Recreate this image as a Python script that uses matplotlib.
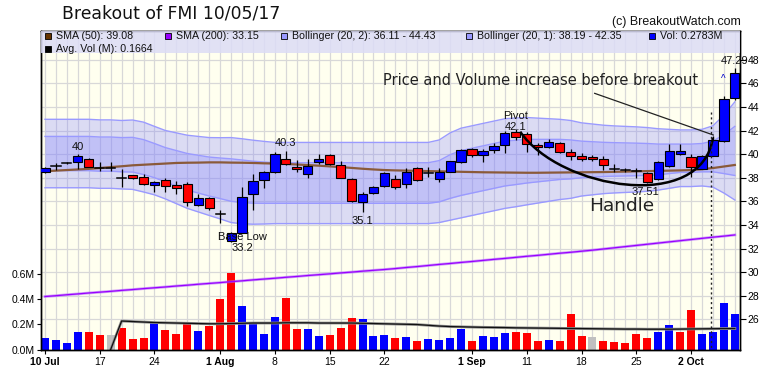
import numpy as np
import matplotlib
matplotlib.use("Agg")
import matplotlib.pyplot as plt
from matplotlib.patches import Rectangle, PathPatch
from matplotlib.path import Path
import matplotlib.transforms as mtransforms

plt.rcParams['font.family'] = ['Liberation Sans', 'DejaVu Sans']

# ---------------- data ----------------
tick_idx = [0, 5, 10, 16, 21, 26, 31, 39, 44, 49, 54, 59]
tick_lbl = ['10 Jul', '17', '24', '1 Aug', '8', '15', '22', '1 Sep', '11', '18', '25', '2 Oct']
tick_bold = [True, False, False, True, False, False, False, True, False, False, False, True]

opens = [38.5, 39.0, 39.25, 39.3, 39.6, 38.8, 38.8, 38.0, 38.2, 38.1,
         37.35, 37.8, 37.4, 37.45, 35.65, 36.25, 34.9, 32.6, 33.35, 36.6,
         37.8, 38.5, 39.55, 38.9, 38.3, 39.35, 39.9, 39.05, 37.9, 35.95,
         36.7, 37.3, 37.9, 37.45, 38.8, 38.4, 37.9, 38.5, 39.35, 40.4,
         39.9, 40.35, 40.75, 41.85, 41.7, 40.75, 40.6, 40.9, 40.2, 39.85,
         39.75, 39.6, 38.75, 38.62, 38.58, 38.4, 37.85, 39.0, 40.0, 39.75,
         38.75, 39.85, 41.1, 44.75]
highs = [38.9, 39.25, 39.3, 40.0, 39.65, 39.35, 39.35, 38.7, 38.25, 38.35,
         37.7, 37.95, 37.75, 37.6, 36.6, 36.4, 35.3, 33.4, 37.2, 38.35,
         38.55, 40.2, 40.3, 39.5, 39.6, 40.0, 40.0, 39.4, 37.95, 36.8,
         37.3, 38.5, 38.2, 38.8, 38.95, 38.95, 38.8, 39.45, 40.4, 40.55,
         40.4, 40.9, 42.0, 42.1, 41.9, 40.9, 41.25, 41.0, 40.45, 40.1,
         39.92, 39.8, 39.2, 38.85, 38.8, 38.5, 39.45, 40.85, 40.85, 40.05,
         39.95, 41.5, 44.9, 47.29]
lows = [38.4, 38.65, 39.2, 38.75, 38.9, 38.55, 38.6, 37.25, 37.9, 37.35,
        36.8, 36.8, 36.65, 35.6, 35.6, 35.25, 34.2, 32.55, 33.3, 35.3,
        37.1, 38.4, 39.1, 38.5, 38.0, 39.2, 39.1, 37.95, 35.95, 35.1,
        36.65, 37.25, 37.05, 37.1, 37.7, 38.05, 37.65, 38.45, 39.25, 39.75,
        39.35, 40.1, 40.1, 41.2, 40.2, 39.95, 40.5, 40.1, 39.5, 39.45,
        39.42, 38.65, 38.5, 38.45, 37.95, 37.51, 37.8, 38.95, 39.95, 38.1,
        38.7, 39.8, 41.05, 44.6]
closes = [38.8, 39.0, 39.25, 39.8, 38.95, 38.8, 38.8, 38.0, 37.95, 37.45,
          37.6, 37.3, 37.15, 35.9, 36.3, 35.4, 34.9, 33.35, 36.4, 37.75,
          38.5, 40.0, 39.15, 38.7, 39.0, 39.55, 39.15, 38.0, 36.05, 36.6,
          37.2, 38.4, 37.2, 38.5, 37.8, 38.4, 38.45, 39.4, 40.35, 39.9,
          40.25, 40.7, 41.75, 41.45, 40.85, 40.6, 41.05, 40.2, 39.8, 39.55,
          39.55, 39.1, 38.75, 38.62, 38.58, 37.6, 39.35, 40.3, 40.25, 38.9,
          39.8, 41.2, 44.65, 46.85]
volume = [0.091, 0.075, 0.052, 0.139, 0.139, 0.115, 0.115, 0.171, 0.083, 0.091,
          0.210, 0.155, 0.123, 0.218, 0.147, 0.187, 0.401, 0.607, 0.345, 0.210,
          0.123, 0.258, 0.409, 0.163, 0.163, 0.107, 0.115, 0.171, 0.250, 0.242,
          0.107, 0.115, 0.091, 0.099, 0.067, 0.083, 0.075, 0.091, 0.163, 0.067,
          0.107, 0.099, 0.131, 0.139, 0.131, 0.067, 0.075, 0.067, 0.282, 0.107,
          0.099, 0.067, 0.060, 0.052, 0.123, 0.091, 0.139, 0.194, 0.139, 0.313,
          0.123, 0.139, 0.369, 0.2783]
nan = float('nan')
avg_vol = [nan, nan, nan, nan, nan, nan, 0.0, 0.226, 0.222, 0.218,
           0.214, 0.212, 0.210, 0.208, 0.206, 0.204, 0.204, 0.206, 0.208, 0.210,
           0.210, 0.210, 0.212, 0.212, 0.212, 0.210, 0.210, 0.210, 0.210, 0.208,
           0.206, 0.204, 0.202, 0.200, 0.198, 0.192, 0.186, 0.182, 0.180, 0.178,
           0.176, 0.175, 0.174, 0.172, 0.171, 0.170, 0.169, 0.168, 0.167, 0.166,
           0.165, 0.164, 0.163, 0.162, 0.162, 0.161, 0.161, 0.161, 0.162, 0.163,
           0.164, 0.165, 0.166, 0.1664]
sma50 = [38.55, 38.6, 38.65, 38.7, 38.75, 38.82, 38.9, 38.97, 39.05, 39.1,
         39.15, 39.2, 39.25, 39.27, 39.28, 39.3, 39.3, 39.28, 39.27, 39.25,
         39.22, 39.2, 39.17, 39.12, 39.07, 39.02, 38.96, 38.9, 38.83, 38.76,
         38.7, 38.65, 38.62, 38.6, 38.58, 38.56, 38.54, 38.52, 38.5, 38.48,
         38.46, 38.45, 38.44, 38.43, 38.42, 38.42, 38.43, 38.44, 38.45, 38.46,
         38.47, 38.48, 38.5, 38.52, 38.54, 38.56, 38.58, 38.6, 38.62, 38.65,
         38.72, 38.82, 38.95, 39.08]
sma200 = [27.93, 28.00, 28.08, 28.15, 28.23, 28.30, 28.37, 28.45, 28.52, 28.60,
          28.67, 28.74, 28.82, 28.89, 28.97, 29.04, 29.11, 29.19, 29.26, 29.34,
          29.41, 29.48, 29.56, 29.63, 29.71, 29.78, 29.85, 29.93, 30.00, 30.08,
          30.15, 30.22, 30.30, 30.39, 30.47, 30.56, 30.65, 30.73, 30.82, 30.90,
          30.99, 31.08, 31.16, 31.25, 31.34, 31.42, 31.51, 31.60, 31.68, 31.77,
          31.86, 31.96, 32.06, 32.16, 32.26, 32.36, 32.46, 32.56, 32.66, 32.76,
          32.86, 32.96, 33.05, 33.15]
bb_mid = [40.05, 40.05, 40.05, 40.05, 40.05, 40.0, 40.0, 39.95, 39.95, 39.75,
          39.45, 39.1, 38.8, 38.5, 38.3, 38.1, 37.95, 37.8, 37.7, 37.62,
          37.58, 37.55, 37.55, 37.55, 37.55, 37.55, 37.55, 37.55, 37.55, 37.55,
          37.55, 37.55, 37.55, 37.55, 37.55, 37.55, 37.7, 38.1, 38.4, 38.6,
          38.8, 39.0, 39.2, 39.3, 39.4, 39.45, 39.5, 39.55, 39.55, 39.55,
          39.55, 39.55, 39.55, 39.55, 39.55, 39.55, 39.55, 39.6, 39.65, 39.65,
          39.7, 39.8, 40.0, 40.27]
bb_sd = [1.45, 1.45, 1.45, 1.45, 1.45, 1.45, 1.45, 1.45, 1.47, 1.48,
         1.45, 1.45, 1.5, 1.55, 1.6, 1.65, 1.72, 1.8, 1.8, 1.78,
         1.75, 1.72, 1.72, 1.72, 1.72, 1.72, 1.72, 1.72, 1.72, 1.72,
         1.72, 1.72, 1.72, 1.72, 1.72, 1.72, 1.75, 1.85, 1.9, 1.9,
         1.9, 1.9, 1.9, 1.88, 1.85, 1.8, 1.75, 1.7, 1.65, 1.55,
         1.5, 1.45, 1.42, 1.4, 1.38, 1.35, 1.3, 1.25, 1.2, 1.2,
         1.2, 1.3, 1.65, 2.08]

# ---------------- figure ----------------
W, H = 781, 384
fig = plt.figure(figsize=(W / 100, H / 100), dpi=100)
PL, PR, PT, PB = 40.7, 740.0, 30.7, 349.5
ax = fig.add_axes([PL / W, 1 - PB / H, (PR - PL) / W, (PB - PT) / H])
ax2 = ax.twinx()

n = len(closes)
x = np.arange(n)
o = np.array(opens); h = np.array(highs); l = np.array(lows); c = np.array(closes)
mid = np.array(bb_mid); sd = np.array(bb_sd)

ax.set_facecolor('#ffffef')
ax.set_xlim(-0.39, 63.47)
ax.set_ylim(0, 2.53)
ax2.set_ylim(23.44, 50.46)

# grid
ax.set_xticks(x, minor=True)
ax.set_xticks(tick_idx)
ax.grid(which='both', axis='x', color='#d8d8d8', lw=0.9, zorder=0)
ax.set_axisbelow(True)
blend = mtransforms.blended_transform_factory(ax.transAxes, ax2.transData)
for p in range(26, 49, 2):
    ax.plot([0, 1], [p, p], transform=blend, color='#d8d8d8', lw=0.9, zorder=0.5)

# volume
vcol = ['#0000ff']
for i in range(1, n):
    if c[i] > c[i - 1]:
        vcol.append('#0000ff')
    elif c[i] < c[i - 1]:
        vcol.append('#ff0000')
    else:
        vcol.append('#c0c0c0')
ax.bar(x, volume, width=0.73, color=vcol, zorder=2, linewidth=0)
ax.plot(x, avg_vol, color='#909090', lw=2.0, zorder=2.5)
ax.plot(x, avg_vol, color='#101010', lw=0.9, zorder=2.6)

# bands
ax2.fill_between(x, mid - 2 * sd, mid + 2 * sd, color='#8080ff', alpha=0.28, lw=0, zorder=1)
ax2.fill_between(x, mid - sd, mid + sd, color='#8080ff', alpha=0.28, lw=0, zorder=1.1)
for k in (-2, -1, 1, 2):
    ax2.plot(x, mid + k * sd, color='#9a9aff', lw=1.0, zorder=1.2)

# moving averages
ax2.plot(x, sma200, color='#b060ff', lw=2.0, zorder=1.5, alpha=0.6)
ax2.plot(x, sma200, color='#9900ff', lw=0.9, zorder=1.6)
ax2.plot(x, sma50, color='#8a5a3a', lw=1.6, zorder=1.7)

# candles
bw = 0.84
ax2.vlines(x, l, h, color='black', lw=0.9, zorder=3)
for i in range(n):
    if abs(c[i] - o[i]) < 0.001:
        ax2.plot([i - bw / 2, i + bw / 2], [o[i], o[i]], color='black', lw=1.1, zorder=4)
    else:
        col = '#0000ff' if c[i] > o[i] else '#ff0000'
        lo = min(o[i], c[i])
        ax2.add_patch(Rectangle((i - bw / 2, lo), bw, abs(c[i] - o[i]),
                                facecolor=col, edgecolor='black', lw=0.8, zorder=4))

# annotations
lab = dict(fontsize=8, color='#111111', ha='center', va='center', zorder=6)
ax2.text(3, 40.6, '40', **lab)
ax2.text(22, 40.94, '40.3', **lab)
ax2.text(29, 34.33, '35.1', **lab)
ax2.text(18, 33.0, 'Base Low', **lab)
ax2.text(18, 32.04, '33.2', **lab)
ax2.text(43, 43.23, 'Pivot', **lab)
ax2.text(43, 42.3, '42.1', **lab)
ax2.text(54.85, 36.82, '37.51', **lab)
ax2.text(63, 47.88, '47.29', **lab)
ax2.text(61.9, 46.4, '^', fontsize=7, color='#0000cc', ha='center', va='center', zorder=6)

ax2.text(30.9, 46.2, 'Price and Volume increase before breakout', fontsize=10.55,
         family='DejaVu Sans', color='#222222', ha='left', va='center', zorder=6)
ax2.plot([50.2, 61.03], [45.15, 41.62], color='#222222', lw=0.9, zorder=6)
ax2.text(52.7, 35.58, 'Handle', fontsize=13.3, family='DejaVu Sans', color='#222222',
         ha='center', va='center', zorder=6)
ax2.plot([60.85, 60.85], [43.6, 23.44], color='#222222', lw=1.0, ls=(0, (1.5, 2)), zorder=6)

verts = [(43.4, 41.9), (47.0, 37.0), (60.0, 35.0), (61.0, 41.4)]
path = Path(verts, [Path.MOVETO, Path.CURVE4, Path.CURVE4, Path.CURVE4])
ax2.add_patch(PathPatch(path, facecolor='none', edgecolor='black', lw=1.8, zorder=5.5))

# legend band
ax2.add_patch(Rectangle((0, 1 - 22.6 / (PB - PT)), 1, 22.6 / (PB - PT), transform=ax2.transAxes,
                        facecolor='#dcdcf6', alpha=0.85, lw=0, zorder=7))

# axes styling
for a in (ax, ax2):
    for s in a.spines.values():
        s.set_color('black')
        s.set_linewidth(1.0)
ax.set_yticks([0, 0.2, 0.4, 0.6])
ax.set_yticklabels(['0.0M', '0.2M', '0.4M', '0.6M'])
ax.tick_params(axis='y', length=3, pad=1.5, labelsize=7.5, direction='out')
ax.tick_params(axis='x', which='major', length=3, pad=2.5, labelsize=7.5)
ax.tick_params(axis='x', which='minor', length=0)
ax.set_xticklabels(tick_lbl)
for t, b in zip(ax.get_xticklabels(), tick_bold):
    if b:
        t.set_fontweight('bold')
ax2.set_yticks(range(26, 49, 2))
ax2.tick_params(axis='y', length=4, pad=1.5, labelsize=7.5, direction='out')

# title and legend text
def px(xp, yp):
    return xp / W, 1 - yp / H

fig.text(*px(62, 13), 'Breakout of FMI 10/05/17', fontsize=12.4, family='DejaVu Sans',
         color='#111111', ha='left', va='center')
fig.text(*px(740.5, 22), '(c) BreakoutWatch.com', fontsize=8.9, color='#111111',
         ha='right', va='center')

leg = [(45, 36, '#663300', 'SMA (50): 39.08'),
       (165, 36, '#9900ff', 'SMA (200): 33.15'),
       (281, 36, '#9999ff', 'Bollinger (20, 2): 36.11 - 44.43'),
       (466, 36, '#9999ff', 'Bollinger (20, 1): 38.19 - 42.35'),
       (649, 36, '#0000ff', 'Vol: 0.2783M'),
       (45, 49, '#000000', 'Avg. Vol (M): 0.1664')]
for xp, yp, col, txt in leg:
    fig.patches.append(Rectangle(px(xp, yp + 3), 6 / W, 6 / H, transform=fig.transFigure,
                                 facecolor=col, edgecolor='black', lw=0.6, zorder=10))
    fig.text(*px(xp + 11, yp), txt, fontsize=7.7, color='#111111', ha='left', va='center',
             zorder=11)

fig.savefig('out.png', dpi=100, facecolor='white')
